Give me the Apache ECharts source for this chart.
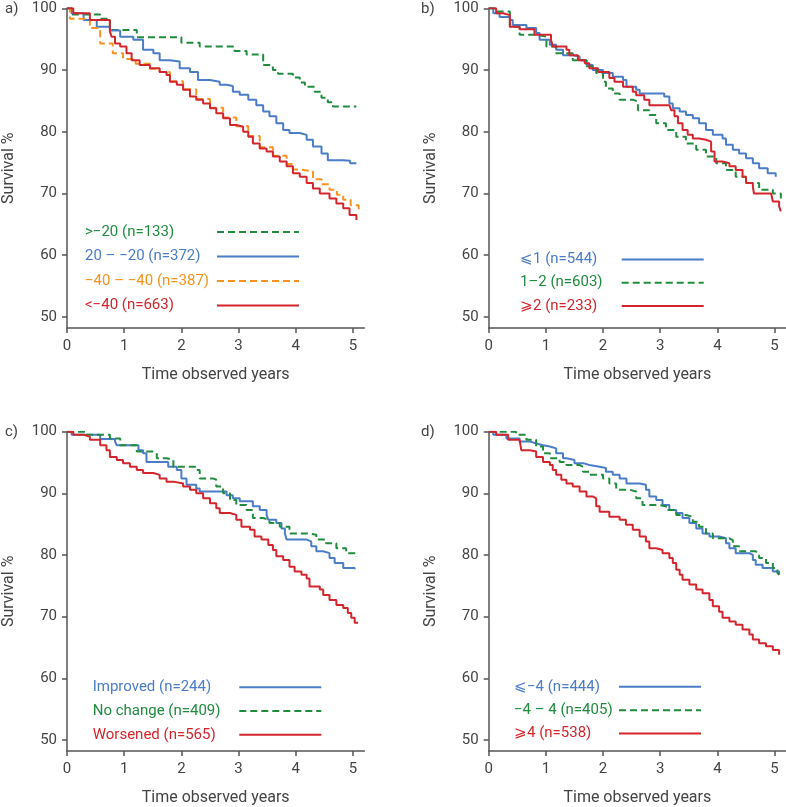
<!DOCTYPE html>
<html>
<head>
<meta charset="utf-8">
<script src="https://cdn.jsdelivr.net/npm/echarts@6/dist/echarts.min.js"></script>
<style>
html,body{margin:0;padding:0;background:#fff;}
#chart{width:786px;height:807px;}
</style>
</head>
<body>
<div id="chart"></div>
<script>
// ---------- data ----------
const xTicks = [0, 1, 2, 3, 4, 5];
const yTicks = [50, 60, 70, 80, 90, 100];
const panelLabels = ['a)', 'b)', 'c)', 'd)'];
const xTitle = 'Time observed years';
const yTitle = 'Survival %';

// panel a
const aNames = ['>\u221220 (n=133)', '20 \u2013 \u221220 (n=372)', '\u221240 \u2013 \u221240 (n=387)', '<\u221240 (n=663)'];
const aGreen = [[0,100],[0.08,99.0],[0.58,98.3],[0.75,96.5],[1.22,95.3],[2.0,94.4],[2.32,93.8],[2.93,93.1],[3.14,92.5],[3.43,90.8],[3.6,90.0],[3.69,89.4],[3.95,88.8],[4.07,88.0],[4.16,87.3],[4.33,86.5],[4.45,85.5],[4.56,84.8],[4.65,84.1],[5.06,84.1]];
const aBlue = [[0,100],[0.08,99.2],[0.29,98.1],[0.52,97.0],[0.75,96.4],[0.93,95.4],[1.16,94.9],[1.33,93.3],[1.51,92.7],[1.62,91.6],[1.8,91.4],[1.97,90.3],[2.15,89.7],[2.29,88.4],[2.5,88.1],[2.67,87.6],[2.79,87.4],[2.9,86.5],[3.02,86.0],[3.17,85.2],[3.31,84.3],[3.43,83.3],[3.54,82.5],[3.66,81.4],[3.78,80.3],[3.89,79.8],[4.07,79.5],[4.19,78.7],[4.3,77.6],[4.45,76.5],[4.56,75.4],[4.83,75.3],[4.95,74.9],[5.06,74.9]];
const aOrange = [[0,100],[0.05,98.3],[0.4,96.8],[0.58,94.3],[0.8,92.7],[0.98,91.8],[1.2,91.0],[1.45,90.2],[1.62,89.7],[1.8,88.2],[2.03,86.9],[2.26,85.3],[2.5,83.9],[2.73,82.3],[2.96,80.9],[3.17,79.3],[3.37,77.5],[3.6,76.1],[3.84,74.8],[3.95,73.9],[4.07,73.6],[4.3,72.3],[4.45,71.5],[4.59,70.6],[4.72,69.8],[4.83,69.0],[4.96,68.1],[5.1,67.2]];
const aRed = [[0,100],[0.11,99.2],[0.4,98.1],[0.75,96.2],[0.78,95.4],[0.84,94.3],[0.93,93.8],[1.04,92.7],[1.13,91.6],[1.27,90.8],[1.45,90.3],[1.62,89.7],[1.74,89.2],[1.8,88.1],[1.92,87.6],[2.03,86.8],[2.15,85.7],[2.26,85.2],[2.38,84.6],[2.5,83.8],[2.61,83.0],[2.73,82.2],[2.85,81.1],[2.96,80.8],[3.08,80.0],[3.17,79.2],[3.25,78.1],[3.37,77.3],[3.49,76.8],[3.6,76.0],[3.72,75.2],[3.84,74.4],[3.95,73.3],[4.07,72.7],[4.19,71.7],[4.3,70.8],[4.42,70.0],[4.59,69.2],[4.71,68.4],[4.83,67.6],[4.94,66.5],[5.06,65.7]];

// panel b
const bNames = ['\u2a7d1 (n=544)', '1\u20132 (n=603)', '\u2a7e2 (n=233)'];
const bBlue = [[0,100],[0.08,99.2],[0.19,98.6],[0.37,98.1],[0.42,97.3],[0.66,96.8],[0.83,96.0],[0.89,94.9],[1.07,94.1],[1.18,93.3],[1.3,92.4],[1.47,92.2],[1.59,91.6],[1.71,90.8],[1.82,90.0],[2.0,89.5],[2.17,88.9],[2.35,88.4],[2.41,87.3],[2.58,86.8],[2.64,86.2],[3.0,86.2],[3.07,85.7],[3.16,84.6],[3.22,83.8],[3.34,83.3],[3.45,82.7],[3.57,82.2],[3.68,81.4],[3.8,80.3],[3.92,79.5],[4.09,78.9],[4.15,77.9],[4.27,77.1],[4.38,76.5],[4.5,75.7],[4.62,74.9],[4.73,74.1],[4.88,73.3],[5.02,72.7]];
const bGreen = [[0,100],[0.13,99.5],[0.37,97.0],[0.54,95.7],[0.83,95.4],[1.01,93.8],[1.18,92.7],[1.47,91.6],[1.71,90.6],[1.88,89.5],[2.0,88.1],[2.05,87.0],[2.17,86.2],[2.29,85.2],[2.52,84.9],[2.61,83.5],[2.81,82.7],[2.93,81.4],[3.1,80.3],[3.28,79.2],[3.45,78.1],[3.63,77.1],[3.8,76.0],[3.98,74.9],[4.15,73.8],[4.32,72.7],[4.5,71.7],[4.73,70.6],[4.97,70.0],[5.11,69.2]];
const bRed = [[0,100],[0.13,99.2],[0.25,98.9],[0.37,97.0],[0.54,96.6],[0.8,95.7],[1.09,94.9],[1.12,93.8],[1.36,93.3],[1.41,92.4],[1.56,91.6],[1.68,91.1],[1.76,90.3],[1.91,89.7],[2.11,88.7],[2.2,88.1],[2.35,87.3],[2.52,86.5],[2.58,85.9],[2.72,85.2],[2.81,84.3],[3.16,84.3],[3.19,83.5],[3.25,82.5],[3.31,81.4],[3.39,80.3],[3.48,79.5],[3.57,78.9],[3.68,78.7],[3.8,78.4],[3.89,76.8],[3.95,75.2],[4.09,74.9],[4.21,74.4],[4.32,73.8],[4.44,72.7],[4.5,71.7],[4.62,71.1],[4.64,70.0],[4.94,70.0],[4.97,68.7],[5.08,67.9],[5.11,67.1]];

// panel c
const cNames = ['Improved (n=244)', 'No change (n=409)', 'Worsened (n=565)'];
const cBlue = [[0,100],[0.08,99.5],[0.58,98.8],[0.84,98.4],[0.87,97.8],[1.25,97.0],[1.33,96.5],[1.39,95.1],[1.77,94.3],[1.92,93.8],[2.0,92.4],[2.09,91.4],[2.26,90.8],[2.32,90.3],[2.79,89.7],[2.9,89.2],[3.02,88.7],[3.25,87.9],[3.37,87.3],[3.49,86.5],[3.52,85.7],[3.66,85.2],[3.75,84.3],[3.81,83.5],[3.84,82.5],[4.19,82.2],[4.27,81.4],[4.36,80.6],[4.48,80.3],[4.59,79.5],[4.68,78.7],[4.83,77.9],[5.03,77.7]];
const cGreen = [[0,100],[0.34,99.5],[0.75,98.9],[0.93,97.8],[1.22,96.8],[1.51,96.5],[1.57,95.7],[1.74,95.4],[1.86,94.3],[2.26,93.8],[2.32,92.4],[2.56,92.2],[2.61,91.1],[2.73,90.0],[2.85,88.9],[2.96,88.1],[3.14,87.3],[3.25,86.0],[3.43,85.7],[3.54,85.2],[3.72,84.6],[3.89,83.5],[4.19,83.3],[4.36,82.5],[4.53,81.9],[4.71,81.1],[4.88,80.3],[5.06,79.8]];
const cRed = [[0,100],[0.11,99.5],[0.29,99.2],[0.4,98.7],[0.58,97.8],[0.69,97.0],[0.75,95.9],[0.87,95.4],[0.98,94.9],[1.1,94.3],[1.22,93.8],[1.33,93.3],[1.51,93.0],[1.62,92.4],[1.74,91.9],[1.86,91.6],[2.03,91.1],[2.15,90.6],[2.26,90.0],[2.38,89.2],[2.5,88.4],[2.61,87.6],[2.67,86.8],[2.85,86.5],[2.96,85.7],[3.05,84.6],[3.2,84.1],[3.28,83.0],[3.4,82.5],[3.52,81.6],[3.6,80.8],[3.66,79.8],[3.78,79.2],[3.89,78.1],[3.98,77.3],[4.1,76.8],[4.19,76.2],[4.24,74.9],[4.42,74.4],[4.48,73.5],[4.59,72.7],[4.71,71.9],[4.83,71.4],[4.91,70.6],[4.97,69.8],[5.03,69.0],[5.09,68.9]];

// panel d
const dNames = ['\u2a7d\u22124 (n=444)', '\u22124 \u2013 4 (n=405)', '\u2a7e4 (n=538)'];
const dBlue = [[0,100],[0.08,99.5],[0.31,98.9],[0.54,98.4],[0.72,98.1],[0.83,97.8],[0.95,97.6],[1.07,97.3],[1.18,96.5],[1.3,95.7],[1.36,95.4],[1.5,94.9],[1.65,94.6],[1.76,94.3],[1.94,94.1],[2.05,93.5],[2.17,93.0],[2.29,92.4],[2.41,91.6],[2.64,91.4],[2.75,90.6],[2.81,89.5],[2.93,88.9],[3.04,88.1],[3.16,87.3],[3.28,86.8],[3.39,86.0],[3.51,85.2],[3.63,84.3],[3.74,83.5],[3.86,83.0],[4.03,82.7],[4.15,81.9],[4.21,81.1],[4.32,80.3],[4.56,80.0],[4.62,79.2],[4.67,78.4],[4.79,77.9],[4.97,77.3],[5.08,76.8]];
const dGreen = [[0,100],[0.48,99.5],[0.66,98.7],[0.83,97.6],[0.95,96.5],[1.07,95.7],[1.24,95.1],[1.36,94.6],[1.59,94.3],[1.65,93.5],[1.76,93.0],[2.0,92.4],[2.11,91.6],[2.23,90.6],[2.46,90.3],[2.58,89.2],[2.69,88.1],[2.99,87.9],[3.1,87.3],[3.28,86.5],[3.45,86.2],[3.57,85.4],[3.68,84.6],[3.8,83.5],[3.92,82.7],[4.21,82.4],[4.27,81.4],[4.38,80.6],[4.67,80.3],[4.73,79.5],[4.85,78.7],[4.97,77.9],[5.05,77.1],[5.08,76.8]];
const dRed = [[0,100],[0.13,99.5],[0.34,98.7],[0.54,98.4],[0.57,97.0],[0.72,96.8],[0.83,95.9],[0.95,95.1],[1.07,94.6],[1.12,93.8],[1.18,93.0],[1.27,92.2],[1.36,91.6],[1.47,91.1],[1.59,90.3],[1.71,89.5],[1.82,89.2],[1.88,87.9],[1.94,87.0],[2.11,86.2],[2.29,85.7],[2.4,84.9],[2.52,84.1],[2.64,83.0],[2.75,82.2],[2.81,81.1],[2.93,80.8],[3.04,80.3],[3.16,79.5],[3.22,78.7],[3.28,77.6],[3.34,76.8],[3.39,76.0],[3.51,75.2],[3.63,74.4],[3.74,73.8],[3.86,72.7],[3.92,71.7],[4.03,70.8],[4.09,69.8],[4.21,69.2],[4.32,68.7],[4.44,67.9],[4.56,67.1],[4.62,66.3],[4.73,65.7],[4.85,65.2],[4.97,64.6],[5.08,63.8]];

// ---------- styles ----------
const COL = { g: '#1f8c3e', b: '#4a7cc8', o: '#f7931e', r: '#d4252c' };
const FONT = 'Roboto';
const TXT = '#444';
const AX = '#555';
const DASH = [7, 4];

const grids = [
  { left: 67, top: 8.3, width: 297.4, height: 319.8 },
  { left: 488.7, top: 8.3, width: 297.4, height: 319.8 },
  { left: 67, top: 431.7, width: 297.4, height: 319.6 },
  { left: 488.7, top: 431.7, width: 297.4, height: 319.6 }
];

const xAxes = grids.map((g, i) => ({
  type: 'value', gridIndex: i, min: 0, max: 5.2,
  axisLine: { show: true, lineStyle: { color: AX, width: 1.5 } },
  axisTick: { show: true, length: 5, customValues: xTicks, lineStyle: { color: AX, width: 1.5 } },
  axisLabel: { customValues: xTicks, margin: 11, color: TXT, fontSize: 15, fontFamily: FONT },
  splitLine: { show: false },
  name: xTitle, nameLocation: 'middle', nameGap: 39,
  nameTextStyle: { color: TXT, fontSize: 16, fontFamily: FONT }
}));
const yAxes = grids.map((g, i) => ({
  type: 'value', gridIndex: i, min: 48.2, max: 100,
  axisLine: { show: true, lineStyle: { color: AX, width: 1.5 } },
  axisTick: { show: true, length: 5, customValues: yTicks, lineStyle: { color: AX, width: 1.5 } },
  axisLabel: { customValues: yTicks, margin: 10, color: TXT, fontSize: 15, fontFamily: FONT },
  splitLine: { show: false },
  name: yTitle, nameLocation: 'middle', nameGap: 50,
  nameTextStyle: { color: TXT, fontSize: 16, fontFamily: FONT }
}));

const panels = [
  { names: aNames, sets: [[aGreen, 'g', true], [aBlue, 'b', false], [aOrange, 'o', true], [aRed, 'r', false]], leg: { left: 85, top: 224.5, w: 127, gap: 9.5 } },
  { names: bNames, sets: [[bBlue, 'b', false], [bGreen, 'g', true], [bRed, 'r', false]], leg: { left: 520, top: 252, w: 96.7, gap: 8.2 } },
  { names: cNames, sets: [[cBlue, 'b', false], [cGreen, 'g', true], [cRed, 'r', false]], leg: { left: 92.7, top: 679.7, w: 141.6, gap: 8.8 } },
  { names: dNames, sets: [[dBlue, 'b', false], [dGreen, 'g', true], [dRed, 'r', false]], leg: { left: 514, top: 679.3, w: 100, gap: 8.4 } }
];

const series = [];
const legends = [];
panels.forEach((p, pi) => {
  const keyOf = {};
  const rich = {};
  p.sets.forEach((s, si) => {
    const name = p.names[si];
    keyOf[name] = s[1];
    rich[s[1]] = { color: COL[s[1]], width: p.leg.w, align: 'left', fontSize: 15, lineHeight: 16, fontFamily: FONT };
    series.push({
      type: 'line', name: name, xAxisIndex: pi, yAxisIndex: pi,
      step: 'end', symbol: 'none', showSymbol: false, animation: false,
      data: s[0],
      lineStyle: { color: COL[s[1]], width: 2, type: s[2] ? DASH : 'solid' },
      itemStyle: { color: COL[s[1]] }
    });
  });
  legends.push({
    data: p.names, orient: 'vertical', align: 'right',
    left: p.leg.left, top: p.leg.top, itemGap: p.leg.gap,
    itemWidth: 82, itemHeight: 10, padding: 0, selectedMode: false,
    itemStyle: { color: 'transparent', borderColor: 'transparent', borderWidth: 0, opacity: 0 },
    formatter: (n) => '{' + keyOf[n] + '|' + n + '}',
    textStyle: { fontSize: 15, fontFamily: FONT, rich: rich }
  });
});

const labelPos = [[5, 9], [421, 9], [5, 432], [421, 432]];
const graphics = panelLabels.map((t, i) => ({
  type: 'text', x: labelPos[i][0], y: labelPos[i][1],
  style: { text: t, fill: TXT, font: '15px ' + FONT, verticalAlign: 'middle' }
}));

const chart = echarts.init(document.getElementById('chart'), null, { renderer: 'canvas' });
chart.setOption({
  animation: false,
  backgroundColor: '#fff',
  grid: grids,
  xAxis: xAxes,
  yAxis: yAxes,
  legend: legends,
  graphic: graphics,
  series: series
});
</script>
</body>
</html>
